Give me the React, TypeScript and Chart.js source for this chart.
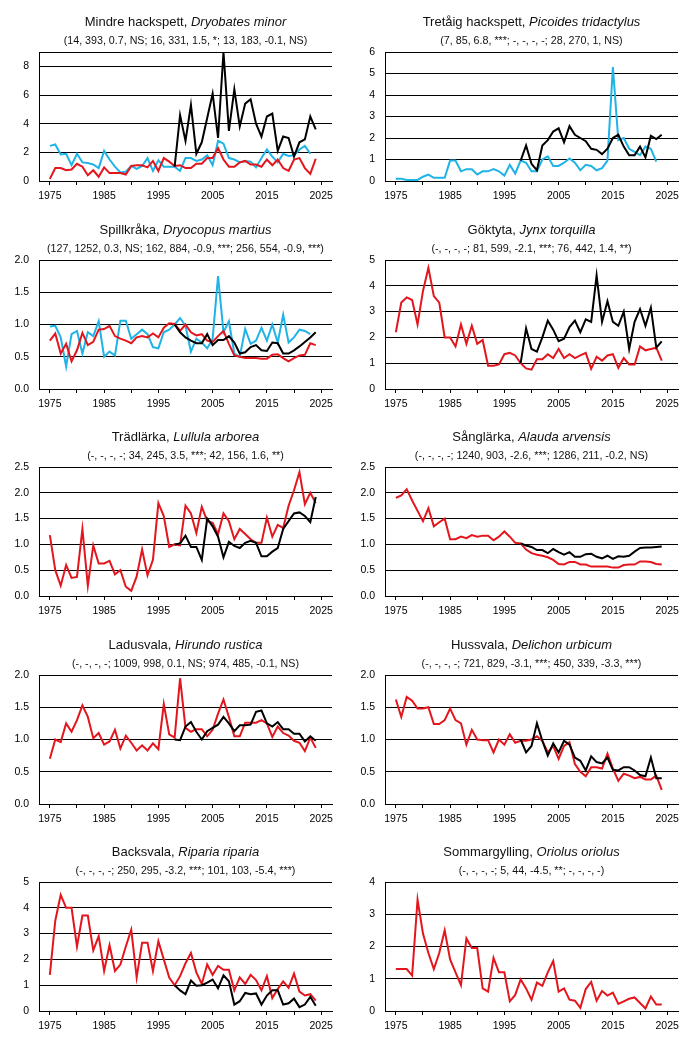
import React, { useEffect, useRef } from "react";
import { Chart, registerables } from "chart.js";

Chart.register(...registerables);

const RED = "#e3161d";
const BLACK = "#000000";
const CYAN = "#1fb3e6";
const FONT = '"Liberation Sans", Arial, sans-serif';

const X_TICKS = [1975, 1980, 1985, 1990, 1995, 2000, 2005, 2010, 2015, 2020, 2025];
const X_LABELS = [1975, 1985, 1995, 2005, 2015, 2025];

const START_LONG = 1975;
const START_SHORT = 1998;

// Mindre hackspett
const MINDRE_CYAN = [2.45, 2.55, 1.85, 1.9, 1.1, 1.9, 1.3, 1.25, 1.15, 0.9, 2.1, 1.5, 1.0, 0.6, 0.65, 1.05, 0.85, 1.05, 1.6, 0.7, 1.45, 1.0, 1.0, 1.0, 0.7, 1.6, 1.6, 1.4, 1.5, 1.8, 1.1, 2.8, 2.6, 1.6, 1.5, 1.3, 1.4, 1.35, 0.95, 1.6, 2.2, 1.7, 1.3, 1.9, 1.75, 1.8, 2.2, 2.45, 1.9];
const MINDRE_RED = [0.15, 0.9, 0.9, 0.75, 0.8, 1.2, 1.0, 0.4, 0.75, 0.3, 0.95, 0.55, 0.55, 0.55, 0.45, 1.05, 1.1, 1.1, 0.95, 1.4, 0.7, 1.6, 1.35, 1.05, 1.1, 0.9, 0.9, 1.2, 1.2, 1.6, 1.6, 2.3, 1.5, 1.0, 1.0, 1.3, 1.4, 1.15, 1.15, 1.0, 1.5, 1.1, 1.5, 0.9, 0.7, 1.5, 1.6, 0.9, 0.5, 1.55];
const MINDRE_BLACK = [1.0, 4.6, 2.8, 5.3, 1.9, 2.7, 4.4, 6.1, 3.0, 9.0, 3.5, 6.4, 3.8, 5.4, 5.7, 4.0, 3.1, 4.5, 4.7, 2.1, 3.1, 3.0, 1.7, 2.7, 2.9, 4.5, 3.6];

// Tretåig hackspett
const TRETAIG_CYAN = [0.1, 0.1, 0.05, 0.05, 0.05, 0.2, 0.3, 0.15, 0.15, 0.15, 0.95, 0.95, 0.45, 0.55, 0.55, 0.3, 0.45, 0.45, 0.55, 0.45, 0.25, 0.75, 0.35, 0.95, 0.85, 0.45, 0.45, 1.0, 1.15, 0.7, 0.7, 0.85, 1.05, 0.85, 0.5, 0.75, 0.7, 0.5, 0.6, 0.95, 5.3, 1.9, 2.0, 1.5, 1.35, 1.2, 1.6, 1.5, 0.9];
const TRETAIG_BLACK = [0.95, 1.65, 0.8, 0.5, 1.65, 1.9, 2.3, 2.45, 1.8, 2.55, 2.15, 2.0, 1.85, 1.5, 1.45, 1.25, 1.5, 2.0, 2.15, 1.6, 1.2, 1.2, 1.6, 1.1, 2.1, 1.95, 2.15];

// Spillkråka
const SPILL_CYAN = [0.97, 0.98, 0.8, 0.35, 0.85, 0.9, 0.55, 0.88, 0.82, 1.05, 0.5, 0.58, 0.52, 1.06, 1.06, 0.78, 0.85, 0.92, 0.85, 0.65, 0.63, 0.88, 0.92, 1.0, 1.1, 0.98, 0.58, 0.78, 0.72, 0.63, 0.78, 1.75, 0.88, 1.05, 0.55, 0.5, 0.93, 0.7, 0.75, 0.95, 0.75, 1.0, 0.72, 1.15, 0.72, 0.8, 0.92, 0.9, 0.85];
const SPILL_RED = [0.75, 0.86, 0.55, 0.7, 0.43, 0.6, 0.87, 0.68, 0.73, 0.92, 0.93, 0.98, 0.82, 0.78, 0.75, 0.71, 0.8, 0.82, 0.8, 0.86, 0.8, 0.95, 1.02, 1.01, 0.9, 1.0, 0.88, 0.83, 0.85, 0.75, 0.73, 0.82, 0.9, 0.7, 0.52, 0.5, 0.48, 0.48, 0.48, 0.47, 0.47, 0.53, 0.54, 0.48, 0.43, 0.48, 0.52, 0.53, 0.71, 0.68];
const SPILL_BLACK = [1.0, 0.88, 0.8, 0.75, 0.71, 0.71, 0.85, 0.68, 0.76, 0.76, 0.82, 0.72, 0.55, 0.57, 0.65, 0.68, 0.6, 0.59, 0.72, 0.71, 0.55, 0.55, 0.6, 0.66, 0.73, 0.8, 0.88];

// Göktyta
const GOK_RED = [2.2, 3.35, 3.55, 3.45, 2.5, 3.8, 4.7, 3.6, 3.35, 2.0, 2.0, 1.65, 2.5, 1.75, 2.45, 1.75, 1.9, 0.9, 0.9, 0.95, 1.35, 1.4, 1.3, 1.0, 0.8, 0.75, 1.15, 1.15, 1.35, 1.2, 1.55, 1.2, 1.35, 1.2, 1.3, 1.4, 0.78, 1.25, 1.1, 1.3, 1.35, 0.82, 1.2, 0.95, 0.95, 1.65, 1.5, 1.55, 1.6, 1.1];
const GOK_BLACK = [1.0, 2.35, 1.55, 1.45, 2.0, 2.65, 2.3, 1.85, 1.95, 2.4, 2.65, 2.2, 2.7, 2.6, 4.4, 2.6, 3.4, 2.6, 2.45, 3.0, 1.55, 2.6, 3.1, 2.45, 3.15, 1.6, 1.85];

// Trädlärka
const TRAD_RED = [1.18, 0.5, 0.2, 0.6, 0.35, 0.37, 1.3, 0.2, 0.98, 0.63, 0.63, 0.68, 0.42, 0.5, 0.18, 0.1, 0.38, 0.9, 0.4, 0.7, 1.8, 1.55, 0.95, 1.0, 0.98, 1.75, 1.6, 1.22, 1.73, 1.45, 1.42, 1.2, 1.6, 1.45, 1.1, 1.3, 1.2, 1.1, 1.03, 1.03, 1.52, 1.15, 1.38, 1.32, 1.75, 2.05, 2.4, 1.78, 2.0, 1.8];
const TRAD_BLACK = [1.0, 1.02, 1.17, 0.95, 0.95, 0.7, 1.5, 1.35, 1.15, 0.75, 1.05, 0.97, 0.93, 1.03, 1.07, 1.03, 0.77, 0.77, 0.86, 0.93, 1.3, 1.45, 1.6, 1.62, 1.55, 1.43, 1.92];

// Sånglärka
const SANG_RED = [1.9, 1.95, 2.07, 1.85, 1.65, 1.45, 1.7, 1.35, 1.43, 1.5, 1.1, 1.1, 1.15, 1.12, 1.18, 1.15, 1.17, 1.17, 1.08, 1.15, 1.25, 1.15, 1.03, 1.02, 0.9, 0.83, 0.8, 0.78, 0.75, 0.7, 0.62, 0.61, 0.66, 0.66, 0.61, 0.61, 0.57, 0.57, 0.57, 0.57, 0.55, 0.55, 0.6, 0.61, 0.61, 0.67, 0.67, 0.66, 0.62, 0.61];
const SANG_BLACK = [1.02, 0.98, 0.95, 0.89, 0.89, 0.83, 0.91, 0.85, 0.8, 0.85, 0.76, 0.76, 0.81, 0.82, 0.76, 0.73, 0.78, 0.72, 0.77, 0.76, 0.78, 0.86, 0.93, 0.94, 0.94, 0.95, 0.96];

// Ladusvala
const LADU_RED = [0.7, 1.0, 0.96, 1.25, 1.12, 1.3, 1.53, 1.35, 1.02, 1.1, 0.92, 0.97, 1.15, 0.86, 1.06, 0.95, 0.83, 0.91, 0.83, 0.94, 0.85, 1.55, 1.08, 1.03, 1.95, 1.18, 1.12, 1.16, 1.16, 1.05, 1.15, 1.4, 1.62, 1.35, 1.05, 1.05, 1.26, 1.26, 1.26, 1.3, 1.25, 1.04, 1.2, 1.1, 1.06, 0.98, 0.95, 0.82, 1.03, 0.87];
const LADU_BLACK = [1.0, 0.99, 1.2, 1.27, 1.12, 1.0, 1.13, 1.18, 1.23, 1.35, 1.25, 1.13, 1.22, 1.22, 1.23, 1.43, 1.45, 1.25, 1.2, 1.27, 1.16, 1.16, 1.09, 1.09, 0.97, 1.05, 0.98];

// Hussvala
const HUSS_RED = [1.62, 1.35, 1.66, 1.6, 1.48, 1.48, 1.5, 1.24, 1.24, 1.3, 1.48, 1.3, 1.25, 0.92, 1.15, 1.0, 0.99, 0.99, 0.8, 1.0, 0.92, 1.08, 0.95, 0.98, 0.98, 1.0, 1.05, 0.98, 0.8, 0.9, 0.7, 0.9, 0.96, 0.62, 0.5, 0.43, 0.57, 0.57, 0.55, 0.78, 0.55, 0.36, 0.47, 0.44, 0.4, 0.42, 0.38, 0.38, 0.44, 0.22];
const HUSS_BLACK = [1.0, 0.8, 0.9, 1.25, 0.98, 0.75, 0.94, 0.8, 0.98, 0.92, 0.72, 0.67, 0.52, 0.74, 0.65, 0.63, 0.72, 0.53, 0.52, 0.57, 0.57, 0.52, 0.45, 0.43, 0.72, 0.4, 0.4];

// Backsvala
const BACK_RED = [1.4, 3.5, 4.5, 4.0, 4.0, 2.5, 3.7, 3.7, 2.35, 2.9, 1.55, 2.55, 1.55, 1.8, 2.5, 3.15, 1.3, 2.65, 2.65, 1.55, 2.7, 2.0, 1.3, 1.0, 1.35, 1.85, 2.25, 1.5, 1.05, 1.8, 1.4, 1.75, 1.6, 1.6, 0.8, 1.3, 1.05, 1.4, 1.2, 0.8, 1.35, 0.5, 0.85, 1.15, 0.9, 1.45, 0.75, 0.6, 0.65, 0.4];
const BACK_BLACK = [1.0, 0.8, 0.65, 1.18, 0.98, 1.0, 1.1, 1.22, 0.88, 1.38, 1.15, 0.25, 0.38, 0.7, 0.65, 0.68, 0.25, 0.6, 0.8, 0.8, 0.25, 0.3, 0.48, 0.15, 0.25, 0.55, 0.2];

// Sommargylling
const SOMM_RED = [1.3, 1.3, 1.3, 1.1, 3.45, 2.4, 1.8, 1.3, 1.8, 2.5, 1.6, 1.2, 0.8, 2.25, 1.95, 1.95, 0.7, 0.6, 1.65, 1.2, 1.2, 0.3, 0.5, 0.98, 0.7, 0.35, 0.88, 0.78, 1.2, 1.55, 0.6, 0.7, 0.35, 0.32, 0.1, 0.68, 0.9, 0.32, 0.62, 0.48, 0.57, 0.22, 0.3, 0.38, 0.42, 0.25, 0.08, 0.45, 0.2, 0.2];

type Series = { values: number[]; start: number; color: string };
type Panel = {
  name: string;
  latin: string;
  stats: string;
  yMax: number;
  yStep: number;
  decimals: number;
  series: Series[];
};

const PANELS: Panel[] = [
  {
    name: "Mindre hackspett", latin: "Dryobates minor",
    stats: "(14, 393, 0.7, NS; 16, 331, 1.5, *; 13, 183, -0.1, NS)",
    yMax: 9, yStep: 2, decimals: 0,
    series: [
      { values: MINDRE_BLACK, start: START_SHORT, color: BLACK },
      { values: MINDRE_RED, start: START_LONG, color: RED },
      { values: MINDRE_CYAN, start: START_LONG, color: CYAN },
    ],
  },
  {
    name: "Tretåig hackspett", latin: "Picoides tridactylus",
    stats: "(7, 85, 6.8, ***; -, -, -, -; 28, 270, 1, NS)",
    yMax: 6, yStep: 1, decimals: 0,
    series: [
      { values: TRETAIG_BLACK, start: START_SHORT, color: BLACK },
      { values: TRETAIG_CYAN, start: START_LONG, color: CYAN },
    ],
  },
  {
    name: "Spillkråka", latin: "Dryocopus martius",
    stats: "(127, 1252, 0.3, NS; 162, 884, -0.9, ***; 256, 554, -0.9, ***)",
    yMax: 2, yStep: 0.5, decimals: 1,
    series: [
      { values: SPILL_BLACK, start: START_SHORT, color: BLACK },
      { values: SPILL_RED, start: START_LONG, color: RED },
      { values: SPILL_CYAN, start: START_LONG, color: CYAN },
    ],
  },
  {
    name: "Göktyta", latin: "Jynx torquilla",
    stats: "(-, -, -, -; 81, 599, -2.1, ***; 76, 442, 1.4, **)",
    yMax: 5, yStep: 1, decimals: 0,
    series: [
      { values: GOK_BLACK, start: START_SHORT, color: BLACK },
      { values: GOK_RED, start: START_LONG, color: RED },
    ],
  },
  {
    name: "Trädlärka", latin: "Lullula arborea",
    stats: "(-, -, -, -; 34, 245, 3.5, ***; 42, 156, 1.6, **)",
    yMax: 2.5, yStep: 0.5, decimals: 1,
    series: [
      { values: TRAD_BLACK, start: START_SHORT, color: BLACK },
      { values: TRAD_RED, start: START_LONG, color: RED },
    ],
  },
  {
    name: "Sånglärka", latin: "Alauda arvensis",
    stats: "(-, -, -, -; 1240, 903, -2.6, ***; 1286, 211, -0.2, NS)",
    yMax: 2.5, yStep: 0.5, decimals: 1,
    series: [
      { values: SANG_BLACK, start: START_SHORT, color: BLACK },
      { values: SANG_RED, start: START_LONG, color: RED },
    ],
  },
  {
    name: "Ladusvala", latin: "Hirundo rustica",
    stats: "(-, -, -, -; 1009, 998, 0.1, NS; 974, 485, -0.1, NS)",
    yMax: 2, yStep: 0.5, decimals: 1,
    series: [
      { values: LADU_BLACK, start: START_SHORT, color: BLACK },
      { values: LADU_RED, start: START_LONG, color: RED },
    ],
  },
  {
    name: "Hussvala", latin: "Delichon urbicum",
    stats: "(-, -, -, -; 721, 829, -3.1, ***; 450, 339, -3.3, ***)",
    yMax: 2, yStep: 0.5, decimals: 1,
    series: [
      { values: HUSS_BLACK, start: START_SHORT, color: BLACK },
      { values: HUSS_RED, start: START_LONG, color: RED },
    ],
  },
  {
    name: "Backsvala", latin: "Riparia riparia",
    stats: "(-, -, -, -; 250, 295, -3.2, ***; 101, 103, -5.4, ***)",
    yMax: 5, yStep: 1, decimals: 0,
    series: [
      { values: BACK_BLACK, start: START_SHORT, color: BLACK },
      { values: BACK_RED, start: START_LONG, color: RED },
    ],
  },
  {
    name: "Sommargylling", latin: "Oriolus oriolus",
    stats: "(-, -, -, -; 5, 44, -4.5, **; -, -, -, -)",
    yMax: 4, yStep: 1, decimals: 0,
    series: [{ values: SOMM_RED, start: START_LONG, color: RED }],
  },
];

const PANEL_W = 346;
const PANEL_H = 208;
const PLOT_LEFT = 39;
const PLOT_RIGHT = 332;
const PLOT_TOP = 52;
const PLOT_BOTTOM = 181;

function PanelChart({ panel, left, top }: { panel: Panel; left: number; top: number }) {
  const ref = useRef<HTMLCanvasElement>(null);

  useEffect(() => {
    if (!ref.current) return;
    const yTicks: number[] = [];
    for (let v = 0; v <= panel.yMax + 1e-9; v += panel.yStep) yTicks.push(Math.round(v * 1000) / 1000);
    const labeled = yTicks.slice();
    if (Math.abs(yTicks[yTicks.length - 1] - panel.yMax) > 1e-9) yTicks.push(panel.yMax);

    const tickFont = { family: FONT, size: 10.5 };
    const chart = new Chart(ref.current, {
      type: "line",
      data: {
        datasets: panel.series.map((s) => ({
          data: s.values.map((v, i) => ({ x: s.start + i, y: v })),
          borderColor: s.color,
          backgroundColor: s.color,
          borderWidth: 2,
          pointRadius: 0,
          tension: 0,
          fill: false,
        })),
      },
      options: {
        animation: false,
        responsive: true,
        maintainAspectRatio: false,
        layout: { padding: { top: PLOT_TOP, right: PANEL_W - PLOT_RIGHT, left: 0, bottom: 0 } },
        plugins: { legend: { display: false }, tooltip: { enabled: false }, title: { display: false } },
        scales: {
          x: {
            type: "linear",
            min: 1973,
            max: 2027,
            afterBuildTicks: (s: any) => {
              s.ticks = X_TICKS.map((v) => ({ value: v }));
            },
            afterFit: (s: any) => {
              s.height = PANEL_H - PLOT_BOTTOM;
            },
            ticks: {
              autoSkip: false,
              maxRotation: 0,
              minRotation: 0,
              padding: 5,
              color: "#000",
              font: tickFont,
              callback: (v: any) => (X_LABELS.includes(Number(v)) ? String(v) : ""),
            },
            grid: { drawOnChartArea: false, drawTicks: true, tickLength: 4, color: "#000", lineWidth: 1 },
            border: { display: true, color: "#000", width: 1 },
          },
          y: {
            type: "linear",
            min: 0,
            max: panel.yMax,
            afterBuildTicks: (s: any) => {
              s.ticks = yTicks.map((v) => ({ value: v }));
            },
            afterFit: (s: any) => {
              s.width = PLOT_LEFT;
            },
            ticks: {
              padding: 10,
              color: "#000",
              font: tickFont,
              callback: (v: any) => {
                const n = Number(v);
                return labeled.some((t) => Math.abs(t - n) < 1e-9) ? n.toFixed(panel.decimals) : "";
              },
            },
            grid: { drawTicks: false, color: "#000", lineWidth: 1 },
            border: { display: true, color: "#000", width: 1 },
          },
        },
      } as any,
    });
    return () => chart.destroy();
  }, [panel]);

  return (
    <div style={{ position: "absolute", left, top, width: PANEL_W, height: PANEL_H, background: "#fff" }}>
      <div style={{ position: "absolute", left: 0, top: 0, width: PANEL_W, height: PANEL_H }}>
        <canvas ref={ref} />
      </div>
      <div
        style={{
          position: "absolute",
          left: PLOT_LEFT,
          width: PLOT_RIGHT - PLOT_LEFT,
          top: 13,
          lineHeight: "17px",
          fontSize: 13,
          fontFamily: FONT,
          color: "#111",
          textAlign: "center",
          whiteSpace: "nowrap",
        }}
      >
        {panel.name}, <i>{panel.latin}</i>
      </div>
      <div
        style={{
          position: "absolute",
          left: PLOT_LEFT - 20,
          width: PLOT_RIGHT - PLOT_LEFT + 40,
          top: 33,
          lineHeight: "14px",
          fontSize: 10.7,
          fontFamily: FONT,
          color: "#111",
          textAlign: "center",
          whiteSpace: "nowrap",
        }}
      >
        {panel.stats}
      </div>
    </div>
  );
}

export default function App() {
  return (
    <div style={{ position: "absolute", left: 0, top: 0, width: 692, height: 1038, background: "#fff", overflow: "hidden" }}>
      {PANELS.map((p, i) => (
        <PanelChart
          key={p.name}
          panel={p}
          left={(i % 2) * PANEL_W}
          top={Math.round(Math.floor(i / 2) * 207.6)}
        />
      ))}
    </div>
  );
}
